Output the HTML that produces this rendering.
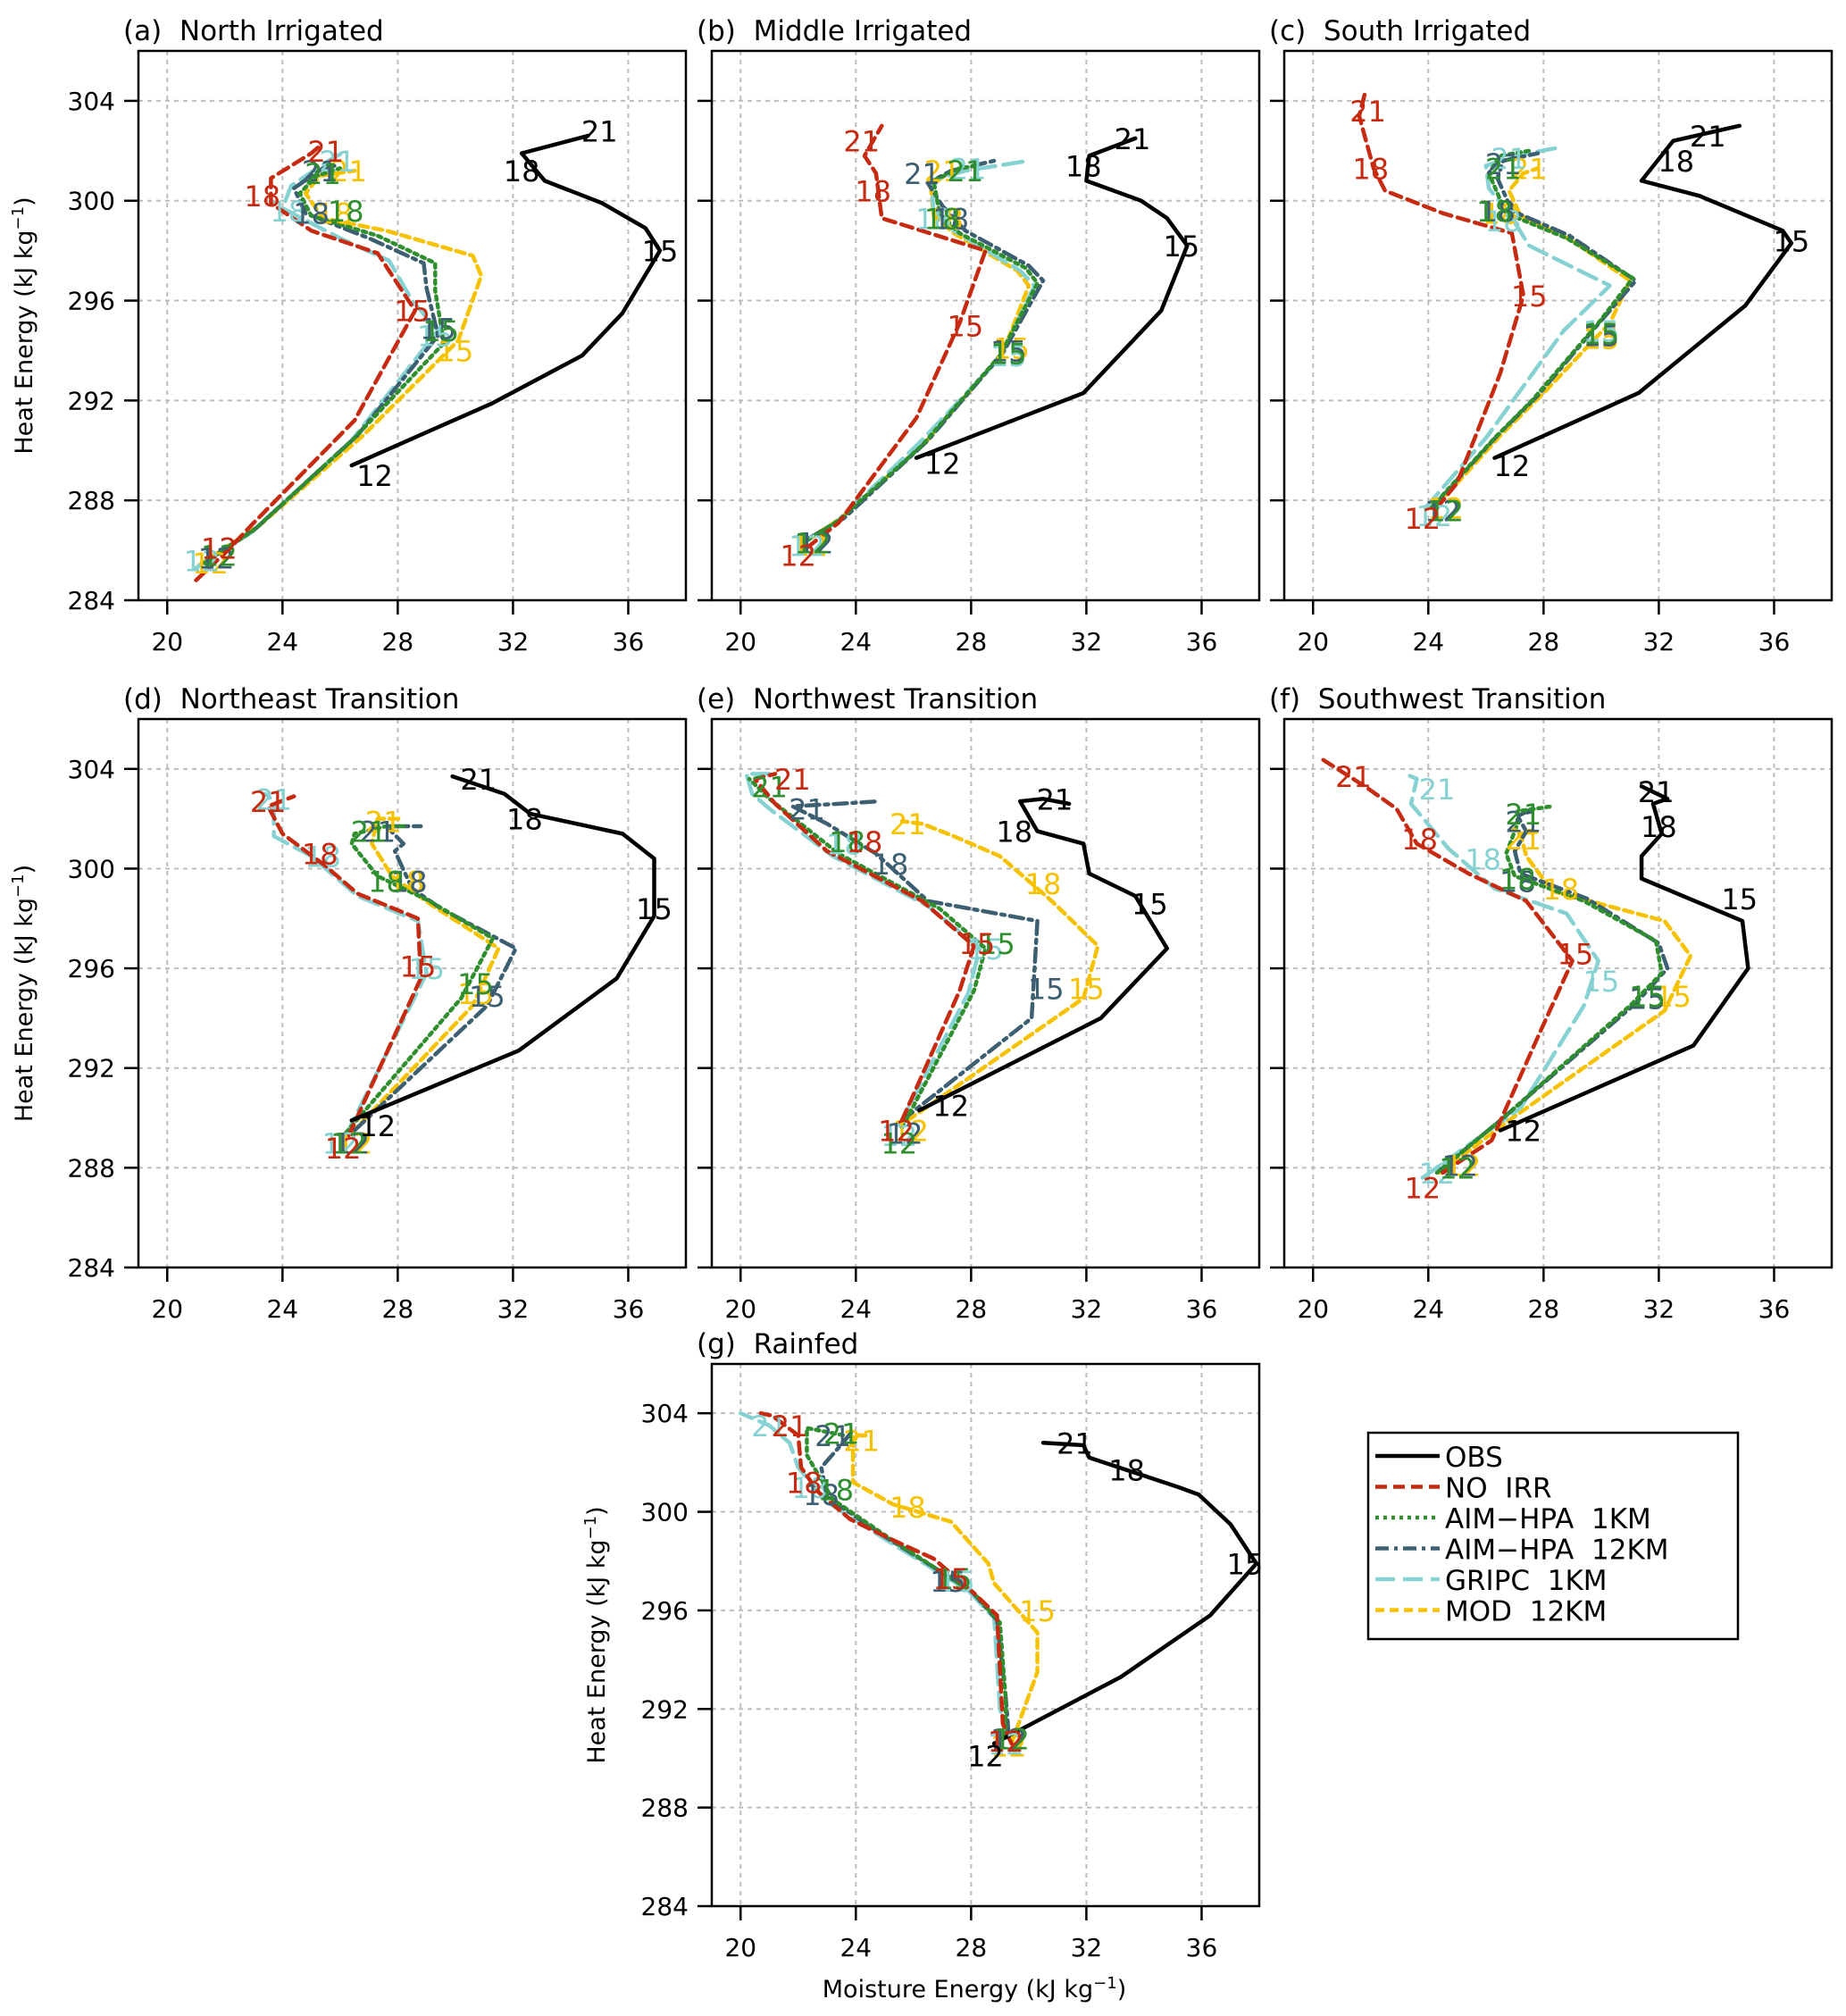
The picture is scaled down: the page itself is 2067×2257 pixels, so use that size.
<!DOCTYPE html>
<html><head><meta charset="utf-8"><title>Heat vs Moisture Energy</title>
<style>html,body{margin:0;padding:0;background:#fff}svg{display:block;font-family:"DejaVu Sans","Liberation Sans",sans-serif}</style>
</head><body>
<svg id="chart" xmlns="http://www.w3.org/2000/svg" width="2067" height="2257" viewBox="0 0 2067 2257"></svg>
<script>
// ---- data (moisture energy kJ/kg, heat energy kJ/kg) ----
const xTicks = [20,24,28,32,36];
const yTicks = [284,288,292,296,300,304];
const seriesNames = ['OBS','NO IRR','AIM−HPA 1KM','AIM−HPA 12KM','GRIPC 1KM','MOD 12KM'];
const panelTitles = ['(a) North Irrigated','(b) Middle Irrigated','(c) South Irrigated','(d) Northeast Transition','(e) Northwest Transition','(f) Southwest Transition','(g) Rainfed'];

const aObs=[[26.4,289.4],[31.3,291.9],[34.4,293.8],[35.8,295.5],[37.1,298.0],[36.6,298.9],[35.1,299.9],[33.1,300.8],[32.3,301.9],[34.6,302.6]];
const aObsLab=[[12,27.2,289.0],[15,37.1,298.0],[18,32.3,301.2],[21,35.0,302.8]];
const aNo=[[21.0,284.8],[22.1,286.0],[23.0,287.1],[26.5,291.2],[28.6,295.6],[27.3,297.9],[25.0,298.8],[23.6,299.9],[23.6,300.9],[25.0,301.9],[25.3,302.2]];
const aNoLab=[[12,21.8,286.1],[15,28.5,295.6],[18,23.3,300.2],[21,25.5,302.0]];
const aA1=[[21.3,285.5],[23.0,286.8],[26.5,290.5],[29.6,294.3],[29.3,296.4],[29.3,297.5],[27.3,298.6],[25.0,299.4],[24.6,300.3],[25.2,301.0],[26.0,301.3]];
const aA1Lab=[[12,21.8,285.8],[15,29.5,294.8],[18,26.2,299.6],[21,25.4,301.1]];
const aA12=[[21.4,285.6],[23.1,286.9],[26.6,290.6],[29.4,294.6],[29.0,296.5],[28.9,297.5],[27.0,298.5],[24.8,299.5],[24.4,300.5],[25.4,301.3],[25.8,301.4]];
const aA12Lab=[[12,21.7,285.7],[15,29.4,294.9],[18,25.0,299.5],[21,25.3,301.2]];
const aGr=[[21.0,285.3],[22.9,286.7],[26.4,290.4],[29.4,294.8],[28.5,296.0],[27.7,297.6],[26.0,298.5],[24.0,299.7],[24.3,300.6],[25.6,301.6],[26.2,302.0]];
const aGrLab=[[12,21.2,285.6],[15,29.3,294.6],[18,24.2,299.6],[21,25.9,301.6]];
const aMod=[[21.1,285.4],[23.2,287.0],[26.8,290.6],[30.1,294.4],[30.9,297.0],[30.6,297.8],[27.6,298.8],[25.4,299.3],[24.8,300.3],[25.3,301.0],[26.5,301.2]];
const aModLab=[[12,21.5,285.5],[15,30.0,294.0],[18,25.8,299.5],[21,26.3,301.2]];

const bObs=[[26.1,289.7],[31.9,292.3],[34.6,295.6],[35.5,298.2],[34.8,299.3],[33.9,300.0],[32.0,300.8],[32.1,301.8],[33.7,302.5]];
const bObsLab=[[12,27.0,289.5],[15,35.3,298.2],[18,31.9,301.4],[21,33.6,302.5]];
const bNo=[[22.3,286.1],[23.4,287.1],[26.1,291.3],[27.6,295.1],[28.5,298.0],[24.9,299.3],[24.7,301.1],[24.3,301.8],[24.9,303.0]];
const bNoLab=[[12,22.0,285.8],[15,27.8,295.0],[18,24.6,300.4],[21,24.2,302.4]];
const bA1=[[22.3,286.4],[23.4,287.2],[26.3,290.2],[29.0,293.8],[30.3,296.7],[29.9,297.3],[27.6,298.7],[26.9,299.5],[26.7,300.8],[27.6,301.3],[28.2,301.4]];
const bA1Lab=[[12,22.5,286.3],[15,29.3,293.9],[18,27.0,299.3],[21,27.8,301.2]];
const bA12=[[22.4,286.5],[23.6,287.3],[26.5,290.4],[29.1,293.9],[30.5,296.8],[30.0,297.4],[27.8,298.8],[27.0,299.8],[26.5,300.7],[27.3,301.2],[28.8,301.6]];
const bA12Lab=[[12,22.6,286.3],[15,29.3,294.0],[18,27.3,299.3],[21,26.3,301.1]];
const bGr=[[22.2,286.3],[23.3,287.1],[26.2,290.3],[29.0,293.7],[30.2,296.6],[29.7,297.2],[27.4,298.8],[26.7,299.6],[26.6,300.8],[27.8,301.2],[30.0,301.6]];
const bGrLab=[[12,22.3,286.2],[15,29.3,293.8],[18,26.7,299.3],[21,27.9,301.3]];
const bMod=[[22.3,286.4],[23.5,287.3],[26.4,290.3],[29.1,293.9],[30.0,296.6],[29.6,297.2],[27.4,298.7],[26.7,299.4],[26.6,300.6],[27.2,301.1],[27.5,301.2]];
const bModLab=[[12,22.4,286.2],[15,29.4,294.1],[18,27.1,299.3],[21,27.0,301.2]];

const cObs=[[26.3,289.7],[31.3,292.3],[35.0,295.8],[36.6,298.3],[36.3,298.8],[33.4,300.2],[31.4,300.8],[32.5,302.4],[34.8,303.0]];
const cObsLab=[[12,26.9,289.4],[15,36.6,298.4],[18,32.6,301.6],[21,33.7,302.6]];
const cNo=[[24.3,287.7],[25.0,288.7],[26.5,293.1],[27.3,296.2],[26.9,298.7],[24.5,299.5],[22.5,300.4],[22.1,301.3],[21.6,303.4],[21.8,304.3]];
const cNoLab=[[12,23.8,287.3],[15,27.5,296.2],[18,22.0,301.3],[21,21.9,303.6]];
const cA1=[[24.1,287.7],[26.3,290.5],[27.6,292.0],[29.9,295.1],[31.1,296.9],[28.8,298.5],[26.7,299.5],[26.1,301.1],[26.5,301.8],[27.5,302.0]];
const cA1Lab=[[12,24.6,287.6],[15,30.0,294.7],[18,26.3,299.6],[21,26.6,301.3]];
const cA12=[[24.2,287.8],[26.4,290.6],[27.8,292.2],[30.0,295.2],[31.2,296.8],[28.9,298.6],[26.9,299.6],[26.4,300.9],[26.6,301.6],[27.8,301.9]];
const cA12Lab=[[12,24.5,287.6],[15,30.0,294.6],[18,26.4,299.6],[21,26.6,301.5]];
const cGr=[[23.9,287.7],[26.0,290.5],[28.7,294.8],[30.3,296.6],[27.5,298.2],[26.8,299.5],[26.1,300.5],[26.0,301.4],[27.0,301.8],[28.4,302.1]];
const cGrLab=[[12,24.2,287.4],[15,30.0,294.8],[18,26.6,299.2],[21,26.8,301.7]];
const cMod=[[24.3,287.8],[26.5,290.6],[28.0,292.3],[30.3,295.1],[31.0,296.8],[29.0,298.4],[27.2,299.4],[26.8,300.4],[27.3,301.1],[27.8,301.3]];
const cModLab=[[12,24.6,287.7],[15,30.0,294.5],[18,26.5,299.5],[21,27.5,301.3]];

const dObs=[[26.4,289.9],[32.2,292.7],[35.6,295.6],[36.9,298.1],[36.9,300.4],[35.8,301.4],[32.6,302.2],[31.7,303.0],[29.9,303.7]];
const dObsLab=[[12,27.3,289.7],[15,36.9,298.4],[18,32.4,302.0],[21,30.8,303.6]];
const dNo=[[26.3,289.3],[28.8,295.6],[28.7,298.0],[26.6,299.0],[25.5,300.1],[24.0,301.4],[23.5,302.5],[24.4,302.9]];
const dNoLab=[[12,26.1,288.8],[15,28.7,296.1],[18,25.3,300.6],[21,23.5,302.7]];
const dA1=[[26.2,289.4],[30.2,294.8],[31.3,297.2],[29.1,298.7],[27.3,299.7],[26.4,301.0],[26.5,301.4],[27.6,301.7],[28.2,301.7]];
const dA1Lab=[[12,26.3,289.0],[15,30.7,295.4],[18,27.6,299.5],[21,27.0,301.5]];
const dA12=[[26.5,289.5],[31.1,294.5],[32.1,296.8],[29.5,298.4],[28.5,299.2],[27.9,300.7],[28.2,301.0],[27.6,301.7],[28.8,301.7]];
const dA12Lab=[[12,26.4,289.0],[15,31.1,294.9],[18,28.4,299.5],[21,27.3,301.5]];
const dGr=[[26.2,289.3],[29.0,295.8],[28.7,297.9],[26.6,298.9],[25.0,300.5],[23.7,301.3],[23.7,302.7],[23.4,303.0]];
const dGrLab=[[12,26.0,289.0],[15,29.0,296.0],[18,25.4,300.5],[21,23.7,302.8]];
const dMod=[[26.4,289.4],[30.6,294.5],[31.5,296.8],[29.1,298.6],[27.8,299.7],[27.1,301.0],[27.3,302.0],[28.2,302.0]];
const dModLab=[[12,26.5,289.0],[15,30.7,295.0],[18,28.3,299.5],[21,27.5,301.9]];

const eObs=[[26.2,290.3],[32.5,294.0],[34.8,296.8],[33.7,298.9],[32.1,299.8],[31.9,301.0],[30.3,301.5],[29.7,302.7],[30.5,302.8],[31.4,302.6]];
const eObsLab=[[12,27.3,290.5],[15,34.2,298.6],[18,29.5,301.5],[21,30.9,302.8]];
const eNo=[[25.6,289.9],[27.6,295.1],[28.1,296.9],[26.3,298.7],[23.0,300.7],[21.2,302.6],[20.5,303.6],[21.2,303.8]];
const eNoLab=[[12,25.4,289.5],[15,28.2,297.0],[18,24.3,301.1],[21,21.8,303.6]];
const eA1=[[25.6,289.6],[28.1,295.1],[28.5,296.8],[26.9,298.4],[23.4,300.6],[21.0,302.8],[20.3,303.6]];
const eA1Lab=[[12,25.5,289.0],[15,28.9,297.0],[18,23.7,301.1],[21,21.0,303.3]];
const eA12=[[25.6,289.9],[30.1,294.0],[30.3,297.9],[26.5,298.7],[24.7,300.6],[23.0,301.8],[21.8,302.5],[23.4,302.6],[24.8,302.7]];
const eA12Lab=[[12,25.7,289.4],[15,30.6,295.2],[18,25.2,300.2],[21,22.3,302.4]];
const eGr=[[25.5,289.7],[27.9,295.0],[28.3,296.8],[26.5,298.5],[23.2,300.5],[21.0,302.4],[20.4,303.0],[20.2,303.8],[21.0,303.8]];
const eGrLab=[[12,25.5,289.3],[15,28.5,296.8],[18,23.6,301.0],[21,21.0,303.3]];
const eMod=[[25.8,289.9],[31.9,294.8],[32.4,296.9],[30.8,298.7],[29.0,300.5],[27.4,301.3],[26.3,301.8],[25.6,301.9]];
const eModLab=[[12,25.9,289.5],[15,32.0,295.2],[18,30.5,299.4],[21,25.8,301.8]];

const fObs=[[26.5,289.5],[33.2,292.9],[35.1,296.0],[34.9,297.9],[31.4,299.6],[31.4,300.5],[32.1,301.4],[31.8,302.6],[32.3,302.8],[31.4,303.3]];
const fObsLab=[[12,27.3,289.5],[15,34.8,298.8],[18,32.0,301.7],[21,31.9,303.1]];
const fNo=[[24.5,287.8],[26.2,289.1],[27.9,293.5],[29.0,296.3],[27.4,298.7],[25.4,299.8],[23.6,301.0],[22.9,302.4],[21.8,303.3],[20.3,304.4]];
const fNoLab=[[12,23.8,287.2],[15,29.1,296.6],[18,23.7,301.2],[21,21.4,303.7]];
const fA1=[[24.3,287.8],[26.5,289.9],[31.0,294.5],[32.1,295.8],[31.9,297.1],[29.4,298.7],[27.0,299.7],[26.7,300.6],[27.1,301.8],[27.1,302.3],[28.3,302.5]];
const fA1Lab=[[12,25.0,288.0],[15,31.6,294.9],[18,27.1,299.6],[21,27.3,302.2]];
const fA12=[[24.4,287.9],[26.6,290.0],[31.2,294.6],[32.3,296.0],[32.0,297.0],[29.5,298.8],[27.2,299.8],[27.0,300.7],[27.4,301.5],[27.1,302.1],[27.6,302.4]];
const fA12Lab=[[12,25.1,288.1],[15,31.6,294.8],[18,27.1,299.5],[21,27.3,301.9]];
const fGr=[[23.8,287.6],[27.2,290.4],[29.4,294.5],[29.9,296.3],[28.8,298.2],[26.3,299.2],[24.7,300.8],[23.4,302.6],[23.6,303.6],[23.2,303.8]];
const fGrLab=[[12,24.3,287.8],[15,30.0,295.5],[18,25.9,300.4],[21,24.3,303.2]];
const fMod=[[24.4,287.8],[26.8,289.9],[32.2,294.3],[33.1,296.5],[32.2,297.9],[28.3,299.1],[27.4,300.5],[27.2,301.4],[27.9,301.5]];
const fModLab=[[12,25.2,288.1],[15,32.5,294.9],[18,28.6,299.2],[21,27.3,301.2]];

const gObs=[[28.8,290.6],[33.2,293.3],[36.3,295.8],[37.9,297.9],[37.0,299.5],[35.9,300.7],[35.2,301.0],[32.1,302.2],[31.9,302.7],[30.5,302.8]];
const gObsLab=[[12,28.5,290.1],[15,37.5,297.9],[18,33.4,301.7],[21,31.6,302.8]];
const gNo=[[29.4,290.6],[29.1,291.4],[28.9,295.8],[28.1,296.7],[26.7,298.1],[25.2,298.9],[23.8,299.7],[22.7,300.8],[22.1,301.8],[22.0,303.1],[21.1,303.9],[20.7,304.0]];
const gNoLab=[[12,29.2,290.7],[15,27.3,297.3],[18,22.2,301.2],[21,21.7,303.5]];
const gA1=[[29.2,290.9],[29.2,292.4],[29.0,295.5],[28.1,296.7],[25.2,298.9],[23.2,300.5],[22.3,302.3],[22.3,303.4],[23.6,303.1]];
const gA1Lab=[[12,29.4,290.8],[15,27.4,297.3],[18,23.3,300.9],[21,23.5,303.2]];
const gA12=[[29.3,291.0],[29.2,292.5],[28.9,295.6],[28.0,296.8],[25.0,299.0],[23.0,300.6],[22.8,301.8],[23.4,302.6],[23.9,303.3]];
const gA12Lab=[[12,29.3,290.8],[15,27.2,297.2],[18,22.8,300.7],[21,23.2,303.1]];
const gGr=[[29.3,290.8],[29.0,292.0],[28.8,295.7],[27.9,296.8],[25.0,298.9],[23.0,300.4],[22.0,301.8],[21.7,302.8],[21.0,303.5],[20.0,304.0]];
const gGrLab=[[12,29.2,290.6],[15,27.5,297.2],[18,22.4,301.0],[21,21.0,303.5]];
const gMod=[[29.4,290.6],[30.3,293.5],[30.3,295.1],[28.8,297.1],[28.6,297.9],[27.3,299.6],[25.3,300.3],[23.9,301.2],[23.9,302.3],[23.9,303.1],[24.4,303.1]];
const gModLab=[[12,29.3,290.5],[15,30.3,296.0],[18,25.8,300.2],[21,24.2,302.9]];

// ---- rendering ----
const NS='http://www.w3.org/2000/svg';
const svg=document.getElementById('chart');
const styles=[
 {c:'#000000',d:'',w:4.5},
 {c:'#c62a10',d:'13,7',w:4.5},
 {c:'#2f8f2f',d:'4,5',w:4.5},
 {c:'#3d5f72',d:'15,6,4,6',w:4.5},
 {c:'#86d2d2',d:'22,9',w:4.5},
 {c:'#f6c200',d:'10,6',w:4.5}
];
const W=613;
const panels=[
 {L:155,T:57,B:672,yl:true,s:[aObs,aNo,aA1,aA12,aGr,aMod],l:[aObsLab,aNoLab,aA1Lab,aA12Lab,aGrLab,aModLab]},
 {L:797,T:57,B:672,yl:false,s:[bObs,bNo,bA1,bA12,bGr,bMod],l:[bObsLab,bNoLab,bA1Lab,bA12Lab,bGrLab,bModLab]},
 {L:1438,T:57,B:672,yl:false,s:[cObs,cNo,cA1,cA12,cGr,cMod],l:[cObsLab,cNoLab,cA1Lab,cA12Lab,cGrLab,cModLab]},
 {L:155,T:805,B:1419,yl:true,s:[dObs,dNo,dA1,dA12,dGr,dMod],l:[dObsLab,dNoLab,dA1Lab,dA12Lab,dGrLab,dModLab]},
 {L:797,T:805,B:1419,yl:false,s:[eObs,eNo,eA1,eA12,eGr,eMod],l:[eObsLab,eNoLab,eA1Lab,eA12Lab,eGrLab,eModLab]},
 {L:1438,T:805,B:1419,yl:false,s:[fObs,fNo,fA1,fA12,fGr,fMod],l:[fObsLab,fNoLab,fA1Lab,fA12Lab,fGrLab,fModLab]},
 {L:797,T:1527,B:2134,yl:true,s:[gObs,gNo,gA1,gA12,gGr,gMod],l:[gObsLab,gNoLab,gA1Lab,gA12Lab,gGrLab,gModLab]}
];
function mk(tag,attrs,parent){const e=document.createElementNS(NS,tag);for(const k in attrs)e.setAttribute(k,attrs[k]);(parent||svg).appendChild(e);return e;}
const X0=19,X1=38,Y0=284,Y1=306;

panels.forEach((p,i)=>{
  const sx=v=>p.L+(v-X0)/(X1-X0)*W;
  const sy=v=>p.B-(v-Y0)/(Y1-Y0)*(p.B-p.T);
  const g=mk('g',{});
  
  
  xTicks.forEach(t=>{const ln=mk('line',{x1:sx(t),x2:sx(t),y1:p.T,y2:p.B,stroke:'#bdbdbd','stroke-width':2,'stroke-dasharray':'5,5'},g);
    
    const tk=mk('line',{x1:sx(t),x2:sx(t),y1:p.B,y2:p.B+16,stroke:'#000','stroke-width':2.5},g);
    
    const tl=mk('text',{x:sx(t),y:p.B+56,'text-anchor':'middle','font-size':28,fill:'#000'},g);tl.textContent=t;
    });
  yTicks.forEach(t=>{const ln=mk('line',{x1:p.L,x2:p.L+W,y1:sy(t),y2:sy(t),stroke:'#bdbdbd','stroke-width':2,'stroke-dasharray':'5,5'},g);
    
    const tk=mk('line',{x1:p.L-16,x2:p.L,y1:sy(t),y2:sy(t),stroke:'#000','stroke-width':2.5},g);
    
    if(p.yl){const tl=mk('text',{x:p.L-26,y:sy(t)+10,'text-anchor':'end','font-size':28,fill:'#000'},g);tl.textContent=t;
      }});
  const fr=mk('rect',{x:p.L,y:p.T,width:W,height:p.B-p.T,fill:'none',stroke:'#000','stroke-width':2.5},g);
  
  const ti=mk('text',{x:p.L-17,y:p.T-12,'font-size':31,fill:'#000','xml:space':'preserve'},g);ti.textContent=panelTitles[i].replace(' ','\u00a0 ');
  
  if(p.yl){const yx=(i===6)?677:36;const cy=(p.T+p.B)/2;
    const yl=mk('text',{x:yx,y:cy,'text-anchor':'middle','font-size':27,fill:'#000',transform:`rotate(-90 ${yx} ${cy})`},g);
    yl.innerHTML='Heat Energy (kJ kg<tspan dy="-10" font-size="18">−1</tspan><tspan dy="10">)</tspan>';
    }
  const order=[5,4,3,2,1,0];
  order.forEach(k=>{const st=styles[k];const pts=p.s[k].map(q=>sx(q[0])+','+sy(q[1])).join(' ');
    const pl=mk('polyline',{points:pts,fill:'none',stroke:st.c,'stroke-width':st.w,'stroke-dasharray':st.d,'stroke-linejoin':'round','stroke-linecap':'round'},g);
    
    });
  order.forEach(k=>{p.l[k].forEach(q=>{const t=mk('text',{x:sx(q[1]),y:sy(q[2])+12,'text-anchor':'middle','font-size':32,fill:styles[k].c},g);t.textContent=q[0];
    });});
});

const xt=mk('text',{x:1091,y:2236,'text-anchor':'middle','font-size':27,fill:'#000'});
xt.innerHTML='Moisture Energy (kJ kg<tspan dy="-10" font-size="18">−1</tspan><tspan dy="10">)</tspan>';



const lg=mk('g',{});


const lb=mk('rect',{x:1532,y:1604,width:414,height:231,fill:'#fff',stroke:'#000','stroke-width':2.5},lg);


seriesNames.forEach((n,k)=>{const y=1630+k*34.5;const st=styles[k];
  const ln=mk('line',{x1:1540,x2:1612,y1:y,y2:y,stroke:st.c,'stroke-width':4.5,'stroke-dasharray':st.d},lg);
  
  const t=mk('text',{x:1618,y:y+12,'font-size':31,fill:'#000','xml:space':'preserve'},lg);t.textContent=n.replace(/ /g,'\u00a0 ');
  });
</script>
</body></html>
